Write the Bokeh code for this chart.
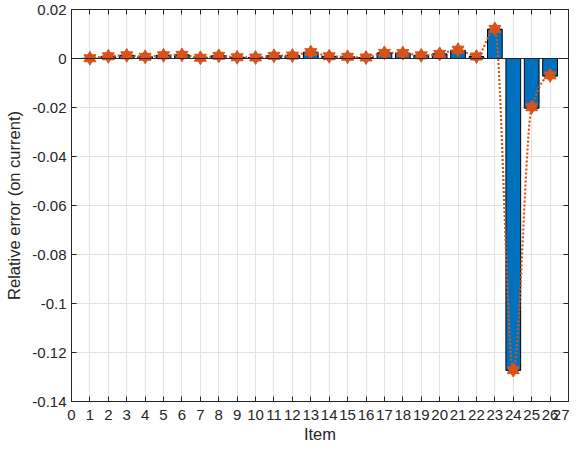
import numpy as np
from bokeh.plotting import figure
from bokeh.models import FixedTicker, LinearAxis, Span
from bokeh.embed import file_html
from bokeh.resources import INLINE

# ---- data ----
items = list(range(1, 27))
bar_values = [0.0001, 0.0009, 0.0013, 0.0007, 0.0013, 0.0015, 0.0003, 0.0011,
              0.0005, 0.0004, 0.0011, 0.0012, 0.0026, 0.0009, 0.0007, 0.0004,
              0.0023, 0.0022, 0.0013, 0.0019, 0.0033, 0.0008, 0.0120, -0.1273,
              -0.0203, -0.0072]
marker_values = [0.0001, 0.0009, 0.0013, 0.0007, 0.0013, 0.0015, 0.0003, 0.0011,
                 0.0005, 0.0004, 0.0011, 0.0012, 0.0026, 0.0009, 0.0007, 0.0004,
                 0.0023, 0.0022, 0.0013, 0.0019, 0.0036, 0.0008, 0.0121, -0.1272,
                 -0.0199, -0.0069]
x_ticks = list(range(0, 28))
y_ticks = [-0.14, -0.12, -0.10, -0.08, -0.06, -0.04, -0.02, 0.0, 0.02]
y_tick_labels = ["-0.14", "-0.12", "-0.1", "-0.08", "-0.06", "-0.04", "-0.02", "0", "0.02"]


def pchip_curve(x, y, n=40):
    """Shape-preserving piecewise cubic curve through the points (as MATLAB pchip)."""
    x = np.asarray(x, float)
    y = np.asarray(y, float)
    h = np.diff(x)
    delta = np.diff(y) / h
    m = len(x)
    d = np.zeros(m)
    for k in range(1, m - 1):
        if delta[k - 1] * delta[k] > 0:
            w1 = 2 * h[k] + h[k - 1]
            w2 = h[k] + 2 * h[k - 1]
            d[k] = (w1 + w2) / (w1 / delta[k - 1] + w2 / delta[k])

    def end_slope(h0, h1, d0, d1):
        s = ((2 * h0 + h1) * d0 - h0 * d1) / (h0 + h1)
        if np.sign(s) != np.sign(d0):
            s = 0.0
        elif np.sign(d0) != np.sign(d1) and abs(s) > abs(3 * d0):
            s = 3 * d0
        return s

    d[0] = end_slope(h[0], h[1], delta[0], delta[1])
    d[-1] = end_slope(h[-1], h[-2], delta[-1], delta[-2])
    xs, ys = [], []
    for k in range(m - 1):
        t = np.linspace(0, 1, n, endpoint=(k == m - 2))
        h00 = 2 * t**3 - 3 * t**2 + 1
        h10 = t**3 - 2 * t**2 + t
        h01 = -2 * t**3 + 3 * t**2
        h11 = t**3 - t**2
        xs.append(x[k] + t * h[k])
        ys.append(h00 * y[k] + h10 * h[k] * d[k] + h01 * y[k + 1] + h11 * h[k] * d[k + 1])
    return np.concatenate(xs), np.concatenate(ys)


FONT = "Liberation Sans"
TXT = "#262626"
BLUE = "#0072BD"
ORANGE = "#D95319"

p = figure(width=569, height=445, x_range=(0, 27), y_range=(-0.14, 0.02),
           output_backend="svg", toolbar_location=None,
           min_border_left=71, min_border_right=1, min_border_top=9, min_border_bottom=44)
p.background_fill_color = "white"
p.border_fill_color = "white"
p.outline_line_color = TXT
p.outline_line_width = 1

# grid
p.xgrid.ticker = FixedTicker(ticks=x_ticks)
p.ygrid.ticker = FixedTicker(ticks=y_ticks)
for g in (p.xgrid, p.ygrid):
    g.grid_line_color = "#e3e3e3"
    g.grid_line_width = 1

# bars
p.vbar(x=items, top=bar_values, bottom=0, width=0.8,
       fill_color=BLUE, line_color="#000000", line_width=1)

# bar baseline
p.add_layout(Span(location=0, dimension="width", line_color=TXT, line_width=1))

# smooth dotted line through the markers
cx, cy = pchip_curve(items, marker_values)
p.line(cx, cy, line_color=ORANGE, line_width=2.2, line_dash="2 2")

# hexagram markers (two overlapping triangles)
p.scatter(items, marker_values, marker="triangle", size=12,
          fill_color=ORANGE, line_color=ORANGE, line_width=1)
p.scatter(items, marker_values, marker="inverted_triangle", size=12,
          fill_color=ORANGE, line_color=ORANGE, line_width=1)

# axes
xa = p.xaxis[0]
ya = p.yaxis[0]
xa.ticker = FixedTicker(ticks=x_ticks)
ya.ticker = FixedTicker(ticks=y_ticks)
ya.major_label_overrides = {t: lab for t, lab in zip(y_ticks, y_tick_labels)}
xa.axis_label = "Item"
ya.axis_label = "Relative error (on current)"
for ax in (xa, ya):
    ax.axis_line_color = TXT
    ax.major_tick_line_color = TXT
    ax.major_tick_in = 5
    ax.major_tick_out = 0
    ax.minor_tick_line_color = None
    ax.major_label_text_font = FONT
    ax.major_label_text_font_size = "15px"
    ax.major_label_text_color = TXT
    ax.axis_label_text_font = FONT
    ax.axis_label_text_font_size = "16.5px"
    ax.axis_label_text_font_style = "normal"
    ax.axis_label_text_color = TXT
xa.major_label_standoff = 8
xa.axis_label_standoff = 2
ya.major_label_standoff = 5
ya.axis_label_standoff = 6

# mirrored ticks on top and right (no labels)
for loc, tk in (("above", x_ticks), ("right", y_ticks)):
    ax = LinearAxis(ticker=FixedTicker(ticks=tk))
    ax.axis_line_color = TXT
    ax.major_tick_line_color = TXT
    ax.major_tick_in = 5
    ax.major_tick_out = 0
    ax.minor_tick_line_color = None
    ax.major_label_text_font_size = "0px"
    ax.major_label_text_color = None
    ax.major_label_standoff = 0
    p.add_layout(ax, loc)

open("out.html", "w").write(file_html(p, INLINE))
